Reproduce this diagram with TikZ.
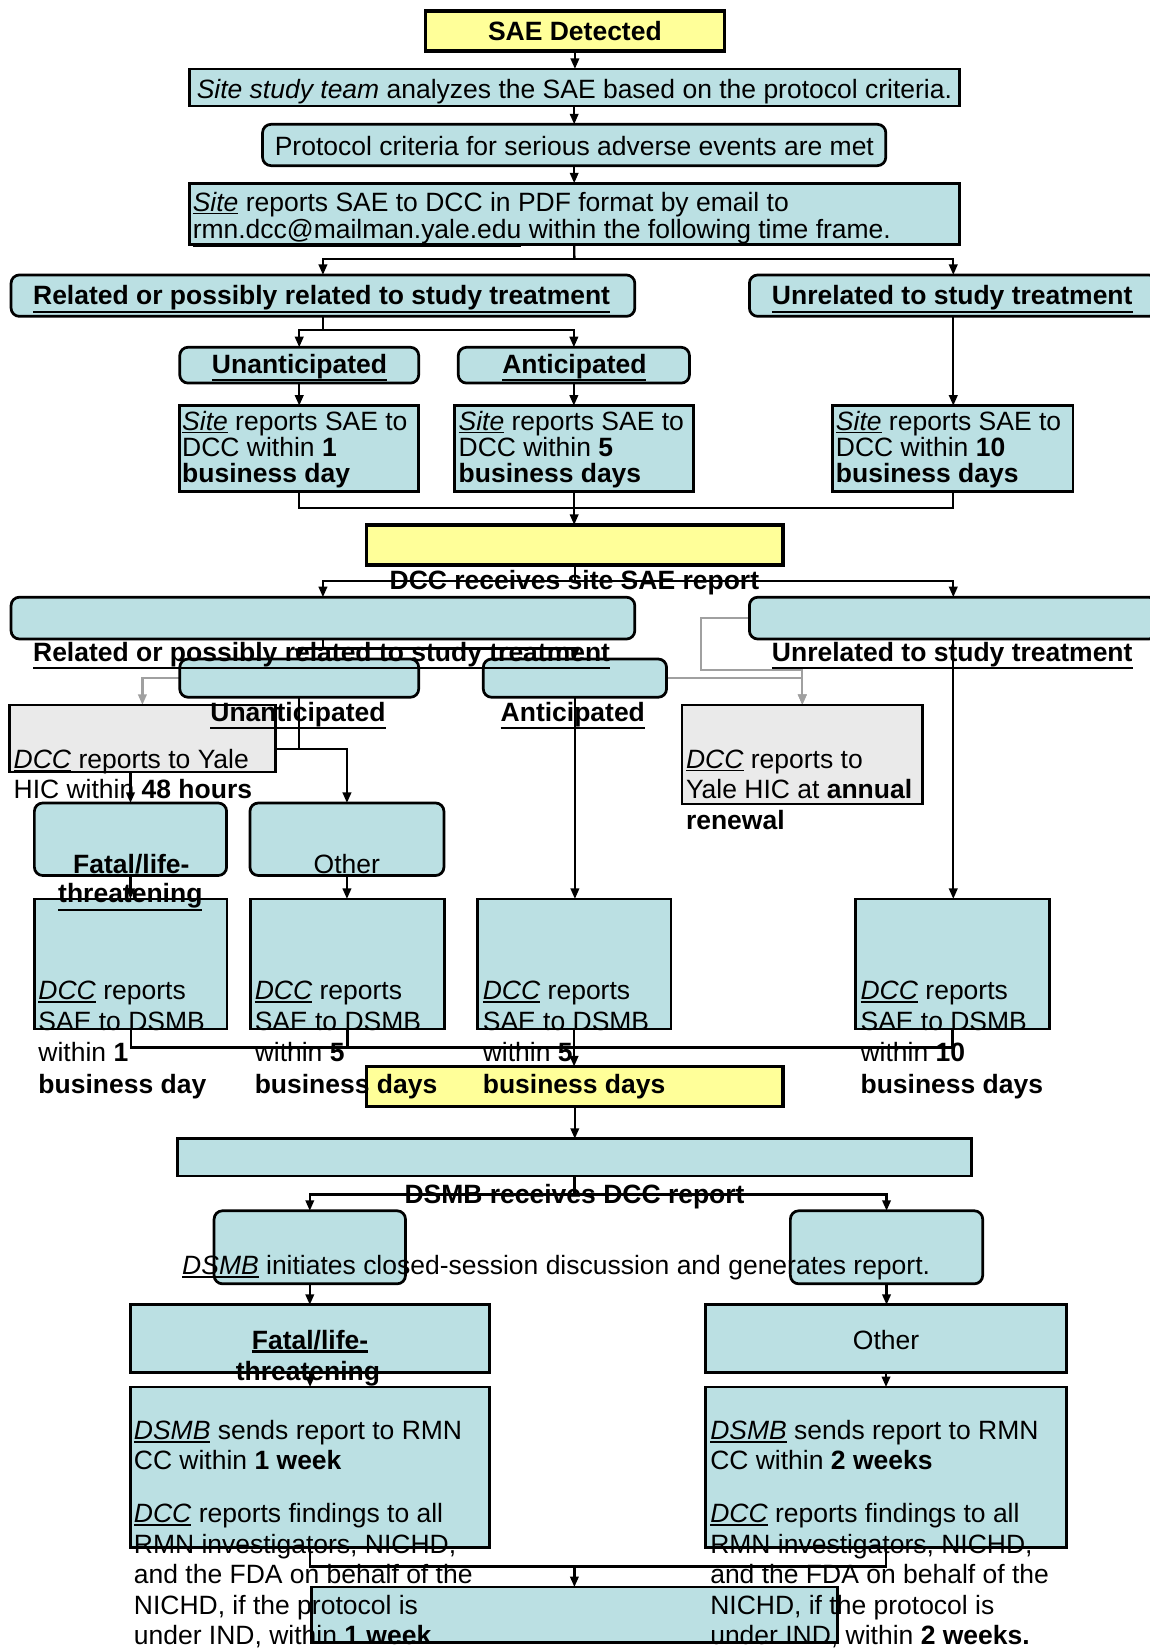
\documentclass[tikz,border=0pt]{standalone}
\usepackage{fontspec}
\setmainfont{Liberation Sans}
\usetikzlibrary{arrows.meta,fit}

\definecolor{boxblue}{RGB}{187,224,227}
\definecolor{boxyellow}{RGB}{255,255,153}
\definecolor{boxgray}{RGB}{234,234,234}
\definecolor{linegray}{RGB}{160,160,160}

% underline with adjustable rule thickness
\newsavebox\ulbox
\newcommand\ulin[2][0.8pt]{\sbox\ulbox{#2}\rlap{\rule[\dimexpr-\dp\ulbox-1.3pt\relax]{\wd\ulbox}{#1}}\usebox\ulbox}

\pgfdeclarelayer{paper}
\pgfdeclarelayer{wires}
\pgfsetlayers{paper,wires,main}

\begin{document}
\begin{tikzpicture}[x=0.5pt,y=-0.5pt,
  framebox/.style={draw, line width=1.3pt, inner sep=0pt, outer sep=0pt},
  bluebox/.style={framebox, fill=boxblue},
  roundbox/.style={bluebox, rounded corners=4pt},
  yellowbox/.style={framebox, fill=boxyellow, line width=1.6pt},
  graybox/.style={framebox, fill=boxgray},
  wire/.style={line width=1.1pt},
  arrowwire/.style={wire, -{Triangle[length=5pt,width=4pt]}},
  graywire/.style={arrowwire, draw=linegray},
  txt/.style={inner sep=0pt, font=\fontsize{12.6}{15}\selectfont},
  ctext/.style={txt, anchor=base},
  ltext/.style={txt, anchor=base west}
]
\useasboundingbox (0,0) rectangle (1094,1568);
\begin{pgfonlayer}{paper}
  \fill[white] (0,0) rectangle (1094,1568);
\end{pgfonlayer}

% ---------------- boxes ----------------
\node[yellowbox, fit={(404.7,10.5)(689.3,48.5)}] (sae) {};
\node[bluebox, fit={(180,65.6)(912.6,100.8)}] (analyze) {};
\node[roundbox, fit={(249.8,118.3)(842.8,157.6)}] (protocol) {};
\node[bluebox, fit={(180,174.4)(912.6,232.4)}] (report) {};
\node[roundbox, fit={(10.5,261.6)(604,301)}] (related) {};
\node[roundbox, fit={(713,261.6)(1101,301)}] (unrelated) {};
\node[roundbox, fit={(171,330.4)(398.4,364.5)}] (unant) {};
\node[roundbox, fit={(436,330.4)(656,364.5)}] (ant) {};
\node[bluebox, fit={(171,386)(398.5,467.7)}] (sr1) {};
\node[bluebox, fit={(432.6,386)(660,467.7)}] (sr2) {};
\node[bluebox, fit={(792,386)(1021,467.7)}] (sr3) {};
\node[yellowbox, fit={(348.8,499.4)(745,537.5)}] (dccrecv) {};
\node[roundbox, fit={(10.5,568.2)(604,608)}] (related2) {};
\node[roundbox, fit={(713,568.2)(1101,608)}] (unrelated2) {};
\node[roundbox, fit={(171,627)(398.4,663.4)}] (unant2) {};
\node[roundbox, fit={(459.8,627)(634.2,663.4)}] (ant2) {};
\node[graybox, fit={(9,670.7)(262,734.5)}] (yale1) {};
\node[graybox, fit={(649,670.7)(877.7,765)}] (yale2) {};
\node[roundbox, fit={(32.7,764)(215.6,833)}] (fatal) {};
\node[roundbox, fit={(237.8,764)(422.4,833)}] (other) {};
\node[bluebox, fit={(32.8,855.3)(216,979)}] (dcc1) {};
\node[bluebox, fit={(238.6,855.3)(422.8,979)}] (dcc2) {};
\node[bluebox, fit={(454,855.3)(638.4,979)}] (dcc3) {};
\node[bluebox, fit={(814,855.3)(998.4,979)}] (dcc4) {};
\node[yellowbox, fit={(348.8,1014.7)(745,1052.8)}] (dsmbrecv) {};
\node[bluebox, fit={(169,1083.5)(924.5,1119)}] (dsmb) {};
\node[roundbox, fit={(203.7,1152)(385.8,1221.5)}] (init1) {};
\node[roundbox, fit={(752,1152)(935,1221.5)}] (init2) {};
\node[bluebox, fit={(124,1241.5)(466,1306)}] (fatal2) {};
\node[bluebox, fit={(671,1241.5)(1015,1306)}] (other2) {};
\node[bluebox, fit={(124,1319.7)(466,1472.7)}] (send1) {};
\node[bluebox, fit={(671,1319.7)(1015,1472.7)}] (send2) {};
\node[bluebox, fit={(296.5,1510)(797,1563)}] (final) {};

% ---------------- connectors ----------------
\coordinate (j1) at (546.5,246.5);
\coordinate (j2) at (307.25,314);
\coordinate (j3) at (546.5,483.6);
\coordinate (j4) at (546.9,552.5);
\coordinate (j5) at (307.25,617);
\coordinate (j6) at (284.7,712.6);
\coordinate (j7) at (546.2,996.5);
\coordinate (j8) at (546.75,1136.5);
\coordinate (j9) at (546.5,1490.4);
\coordinate (g1) at (667,637.5);

\begin{pgfonlayer}{wires}
  \draw[arrowwire] (sae.south) -- (sae.south |- analyze.north);
  \draw[arrowwire] (analyze.south) -- (analyze.south |- protocol.north);
  \draw[arrowwire] (protocol.south) -- (protocol.south |- report.north);
  \draw[wire] (report.south) -- (j1);
  \draw[arrowwire] (j1) -| (related);
  \draw[arrowwire] (j1) -| (unrelated);
  \draw[wire] (related.south) -- (j2);
  \draw[arrowwire] (j2) -| (unant);
  \draw[arrowwire] (j2) -| (ant);
  \draw[arrowwire] (unant.south) -- (unant.south |- sr1.north);
  \draw[arrowwire] (ant.south) -- (ant.south |- sr2.north);
  \draw[arrowwire] (unrelated.south) -- (unrelated.south |- sr3.north);
  \draw[wire] (sr1) |- (j3);
  \draw[wire] (sr3) |- (j3);
  \draw[arrowwire] (sr2.south) -- (sr2.south |- dccrecv.north);
  \draw[wire] (dccrecv.south) -- (j4);
  \draw[arrowwire] (j4) -| (related2);
  \draw[arrowwire] (j4) -| (unrelated2);
  \draw[wire] (related2.south) -- (j5);
  \draw[arrowwire] (j5) -| (unant2);
  \draw[arrowwire] (j5) -| (ant2);
  \draw[graywire] (unant2.west) -| (yale1);
  \draw[graywire] (ant2.east) -| (yale2);
  \draw[graywire] (unrelated2.west) -| (g1) -| (yale2);
  \draw[wire] (unant2.south) -- (j6);
  \draw[arrowwire] (j6) -| (fatal);
  \draw[arrowwire] (j6) -| (other);
  \draw[arrowwire] (ant2.south) -- (ant2.south |- dcc3.north);
  \draw[arrowwire] (unrelated2.south) -- (unrelated2.south |- dcc4.north);
  \draw[arrowwire] (fatal.south) -- (fatal.south |- dcc1.north);
  \draw[arrowwire] (other.south) -- (other.south |- dcc2.north);
  \draw[wire] (dcc1) |- (j7);
  \draw[wire] (dcc2) |- (j7);
  \draw[wire] (dcc4) |- (j7);
  \draw[arrowwire] (dcc3.south) -- (dcc3.south |- dsmbrecv.north);
  \draw[arrowwire] (dsmbrecv.south) -- (dsmbrecv.south |- dsmb.north);
  \draw[wire] (dsmb.south) -- (j8);
  \draw[arrowwire] (j8) -| (init1);
  \draw[arrowwire] (j8) -| (init2);
  \draw[arrowwire] (init1.south) -- (init1.south |- fatal2.north);
  \draw[arrowwire] (init2.south) -- (init2.south |- other2.north);
  \draw[arrowwire] (fatal2.south) -- (fatal2.south |- send1.north);
  \draw[arrowwire] (other2.south) -- (other2.south |- send2.north);
  \draw[wire] (send1) |- (j9);
  \draw[wire] (send2) |- (j9);
  \draw[arrowwire] (j9) -- (j9 |- final.north);
\end{pgfonlayer}

% ---------------- texts ----------------
\node[ctext] (t-sae) at (547,39) {\textbf{SAE Detected}};
\node[ctext] (t-analyze) at (546.5,94) {\ulin{\textit{Site study team}} analyzes the SAE based on the protocol criteria.};
\node[ctext] (t-protocol) at (546.5,148) {Protocol criteria for serious adverse events are met};
\node[ltext] (t-report1) at (183,201) {\ulin{\textit{Site}} reports SAE to DCC in PDF format by email to};
\node[ltext] (t-report2) at (183,227) {\ulin{rmn.dcc@mailman.yale.edu} within the following time frame.};
\node[ctext] (t-related) at (306,290) {\ulin[1.1pt]{\textbf{Related or possibly related to study treatment}}};
\node[ctext] (t-unrelated) at (906,290) {\ulin[1.1pt]{\textbf{Unrelated to study treatment}}};
\node[ctext] (t-unant) at (285,355) {\ulin[1.1pt]{\textbf{Unanticipated}}};
\node[ctext] (t-ant) at (546.5,355) {\ulin[1.1pt]{\textbf{Anticipated}}};

\node[ltext] (t-sr1a) at (173,409.5) {\ulin{\textit{Site}} reports SAE to};
\node[ltext] (t-sr1b) at (173,434.5) {DCC within \textbf{1}};
\node[ltext] (t-sr1c) at (173,459.5) {\textbf{business day}};
\node[ltext] (t-sr2a) at (436,409.5) {\ulin{\textit{Site}} reports SAE to};
\node[ltext] (t-sr2b) at (436,434.5) {DCC within \textbf{5}};
\node[ltext] (t-sr2c) at (436,459.5) {\textbf{business days}};
\node[ltext] (t-sr3a) at (795,409.5) {\ulin{\textit{Site}} reports SAE to};
\node[ltext] (t-sr3b) at (795,434.5) {DCC within \textbf{10}};
\node[ltext] (t-sr3c) at (795,459.5) {\textbf{business days}};

\node[ctext] (t-dccrecv) at (546.5,561) {\textbf{DCC receives site SAE report}};
\node[ctext] (t-related2) at (306,629) {\ulin[1.1pt]{\textbf{Related or possibly related to study treatment}}};
\node[ctext] (t-unrelated2) at (906,629) {\ulin[1.1pt]{\textbf{Unrelated to study treatment}}};
\node[ctext] (t-unant2) at (283.5,686) {\ulin[1.1pt]{\textbf{Unanticipated}}};
\node[ctext] (t-ant2) at (545,686) {\ulin[1.1pt]{\textbf{Anticipated}}};

\node[ltext] (t-yale1a) at (12.6,731) {\ulin{\textit{DCC}} reports to Yale};
\node[ltext] (t-yale1b) at (12.6,760) {HIC within \textbf{48 hours}};
\node[ltext] (t-yale2a) at (652.3,731) {\ulin{\textit{DCC}} reports to};
\node[ltext] (t-yale2b) at (652.3,760) {Yale HIC at \textbf{annual}};
\node[ltext] (t-yale2c) at (652.3,789) {\textbf{renewal}};

\node[ctext] (t-fatala) at (125,831) {\ulin[1.1pt]{\textbf{Fatal/life-}}};
\node[ctext] (t-fatalb) at (124,859) {\ulin[1.1pt]{\textbf{threatening}}};
\node[ctext] (t-other) at (330,831) {Other};

\node[ltext] (t-dcc1a) at (36.2,951) {\ulin{\textit{DCC}} reports};
\node[ltext] (t-dcc1b) at (36.2,980.5) {SAE to DSMB};
\node[ltext] (t-dcc1c) at (36.2,1010) {within \textbf{1}};
\node[ltext] (t-dcc1d) at (36.2,1040) {\textbf{business day}};
\node[ltext] (t-dcc2a) at (242,951) {\ulin{\textit{DCC}} reports};
\node[ltext] (t-dcc2b) at (242,980.5) {SAE to DSMB};
\node[ltext] (t-dcc2c) at (242,1010) {within \textbf{5}};
\node[ltext] (t-dcc2d) at (242,1040) {\textbf{business days}};
\node[ltext] (t-dcc3a) at (459,951) {\ulin{\textit{DCC}} reports};
\node[ltext] (t-dcc3b) at (459,980.5) {SAE to DSMB};
\node[ltext] (t-dcc3c) at (459,1010) {within \textbf{5}};
\node[ltext] (t-dcc3d) at (459,1040) {\textbf{business days}};
\node[ltext] (t-dcc4a) at (818.4,951) {\ulin{\textit{DCC}} reports};
\node[ltext] (t-dcc4b) at (818.4,980.5) {SAE to DSMB};
\node[ltext] (t-dcc4c) at (818.4,1010) {within \textbf{10}};
\node[ltext] (t-dcc4d) at (818.4,1040) {\textbf{business days}};

\node[ctext] (t-dsmbrecv) at (546.7,1145) {\textbf{DSMB receives DCC report}};
\node[ltext] (t-init) at (173,1213) {\ulin{\textit{DSMB}} initiates closed-session discussion and generates report.};
\node[ctext] (t-fatal2a) at (295,1284) {\ulin[1.1pt]{\textbf{Fatal/life-}}};
\node[ctext] (t-fatal2b) at (293,1313) {\ulin[1.1pt]{\textbf{threatening}}};
\node[ctext] (t-other2) at (843,1284) {Other};

\node[ltext] (t-send1a) at (127,1370) {\ulin{\textit{DSMB}} sends report to RMN};
\node[ltext] (t-send1b) at (127,1398.5) {CC within \textbf{1 week}};
\node[ltext] (t-send1c) at (127,1449) {\ulin{\textit{DCC}} reports findings to all};
\node[ltext] (t-send1d) at (127,1478) {RMN investigators, NICHD,};
\node[ltext] (t-send1e) at (127,1506.5) {and the FDA on behalf of the};
\node[ltext] (t-send1f) at (127,1536) {NICHD, if the protocol is};
\node[ltext] (t-send1g) at (127,1565) {under IND, within \textbf{1 week}.};
\node[ltext] (t-send2a) at (675.4,1370) {\ulin{\textit{DSMB}} sends report to RMN};
\node[ltext] (t-send2b) at (675.4,1398.5) {CC within \textbf{2 weeks}};
\node[ltext] (t-send2c) at (675.4,1449) {\ulin{\textit{DCC}} reports findings to all};
\node[ltext] (t-send2d) at (675.4,1478) {RMN investigators, NICHD,};
\node[ltext] (t-send2e) at (675.4,1506.5) {and the FDA on behalf of the};
\node[ltext] (t-send2f) at (675.4,1536) {NICHD, if the protocol is};
\node[ltext] (t-send2g) at (675.4,1565) {under IND, within \textbf{2 weeks.}};
\end{tikzpicture}
\end{document}
